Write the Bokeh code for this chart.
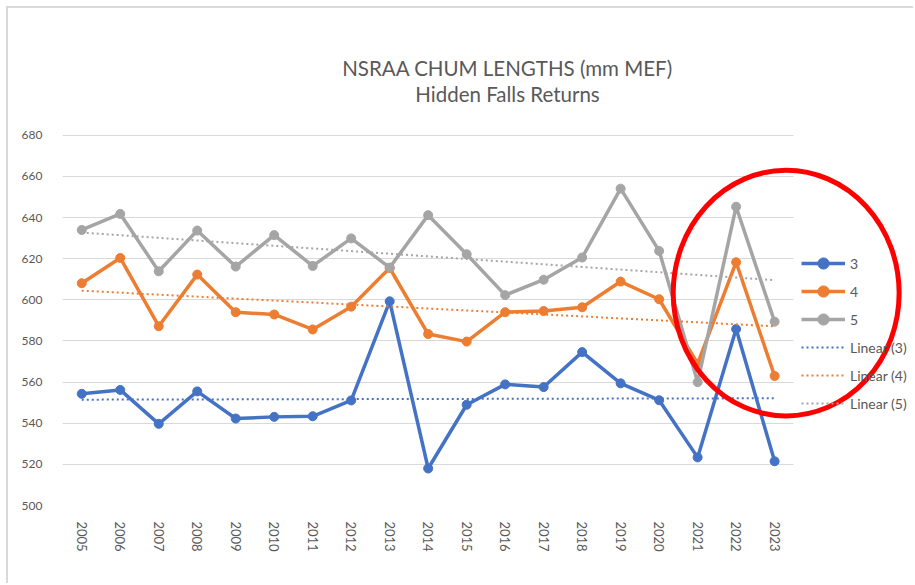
import numpy as np
from bokeh.plotting import figure
from bokeh.models import Range1d, FixedTicker, Legend, LegendItem, Label
from bokeh.embed import file_html
from bokeh.resources import INLINE

# ---------------- data ----------------
title_line1 = "NSRAA CHUM LENGTHS (mm MEF)"
title_line2 = "Hidden Falls Returns"

years = [2005, 2006, 2007, 2008, 2009, 2010, 2011, 2012, 2013, 2014,
         2015, 2016, 2017, 2018, 2019, 2020, 2021, 2022, 2023]
age3 = [554.3, 556.2, 539.7, 555.5, 542.3, 543.1, 543.4, 551.1, 599.3, 518.0,
        549.0, 558.9, 557.6, 574.6, 559.4, 551.2, 523.4, 585.8, 521.5]
age4 = [608.1, 620.4, 587.2, 612.3, 594.0, 592.9, 585.6, 596.7, 615.5, 583.4,
        579.7, 594.0, 594.6, 596.4, 608.9, 600.3, 569.0, 618.3, 563.0]
age5 = [634.0, 641.8, 613.9, 633.7, 616.2, 631.5, 616.5, 629.9, 615.7, 641.2,
        622.2, 602.3, 609.8, 620.6, 654.1, 623.8, 560.0, 645.3, 589.4]
series_names = ["3", "4", "5"]
series_colors = ["#4472C4", "#ED7D31", "#A5A5A5"]
y_ticks = [500, 520, 540, 560, 580, 600, 620, 640, 660, 680]

# highlight ellipse (annotation)
hl_x, hl_y, hl_w, hl_h = 2023.30, 603.3, 5.87, 119.5

FONT = "Lato"
TEXT = "#595959"
GRID = "#D9D9D9"

x_lo, x_hi = 2004.5, 2026.53
cat_hi = 2023.5

p = figure(width=907, height=577, output_backend="svg", toolbar_location=None, title=None,
           x_range=Range1d(x_lo, x_hi), y_range=Range1d(500, 741.7),
           min_border_left=54, min_border_right=5, min_border_top=0, min_border_bottom=80)
p.outline_line_color = None
p.background_fill_color = "white"
p.border_fill_color = "white"
p.styles = {"margin-left": "6px", "margin-top": "6px",
            "border-left": "2px solid #D9D9D9", "border-top": "2px solid #D9D9D9"}

# grid
p.xgrid.visible = False
grid = p.ygrid[0]
grid.ticker = FixedTicker(ticks=y_ticks)
grid.grid_line_color = GRID
grid.grid_line_width = 1
if "cross_bounds" in grid.properties():
    grid.cross_bounds = (x_lo, cat_hi)
else:
    grid.visible = False
    p.segment(x0=[x_lo] * len(y_ticks), x1=[cat_hi] * len(y_ticks), y0=y_ticks, y1=y_ticks,
              line_color=GRID, line_width=1, level="underlay")

# axes
for ax in (p.xaxis[0], p.yaxis[0]):
    ax.axis_line_color = None
    ax.major_tick_line_color = None
    ax.minor_tick_line_color = None
    ax.major_label_text_font = FONT
    ax.major_label_text_color = TEXT
p.yaxis[0].major_label_text_font_size = "12px"
p.xaxis[0].major_label_text_font_size = "13px"
p.xaxis[0].ticker = FixedTicker(ticks=years)
p.xaxis[0].major_label_orientation = "vertical"
p.xaxis[0].major_label_standoff = 10
p.yaxis[0].ticker = FixedTicker(ticks=y_ticks)
p.yaxis[0].major_label_standoff = 14

# series
series = [age3, age4, age5]
main_items, trend_items = [], []
for vals, name, color in zip(series, series_names, series_colors):
    r_line = p.line(years, vals, line_color=color, line_width=3.5)
    r_pts = p.scatter(years, vals, size=9, fill_color=color, line_color=color)
    main_items.append(LegendItem(label=name, renderers=[r_line, r_pts]))
for vals, name, color in zip(series, series_names, series_colors):
    coef = np.polyfit(years, vals, 1)
    trend = np.polyval(coef, years)
    r_tr = p.line(years, trend, line_color=color, line_width=2, line_dash="2 3")
    trend_items.append(LegendItem(label=f"Linear ({name})", renderers=[r_tr]))

legend = Legend(items=main_items + trend_items, location=(739, 88),
                glyph_width=44, glyph_height=28, label_height=28, spacing=0,
                padding=0, margin=0, label_standoff=5,
                label_text_font=FONT, label_text_font_size="14px", label_text_color=TEXT,
                border_line_color=None, background_fill_alpha=0)
p.add_layout(legend)

# titles
p.add_layout(Label(x=445, y=438, x_units="screen", y_units="screen", text=title_line1,
                   text_align="center", text_baseline="middle", text_font=FONT,
                   text_font_size="20.5px", text_color=TEXT))
p.add_layout(Label(x=445, y=412, x_units="screen", y_units="screen", text=title_line2,
                   text_align="center", text_baseline="middle", text_font=FONT,
                   text_font_size="20.5px", text_color=TEXT))

# red highlight ellipse
p.ellipse(x=[hl_x], y=[hl_y], width=[hl_w], height=[hl_h], fill_color=None,
          line_color="#FF0000", line_width=5, level="overlay")

open("out.html", "w").write(file_html(p, INLINE))
